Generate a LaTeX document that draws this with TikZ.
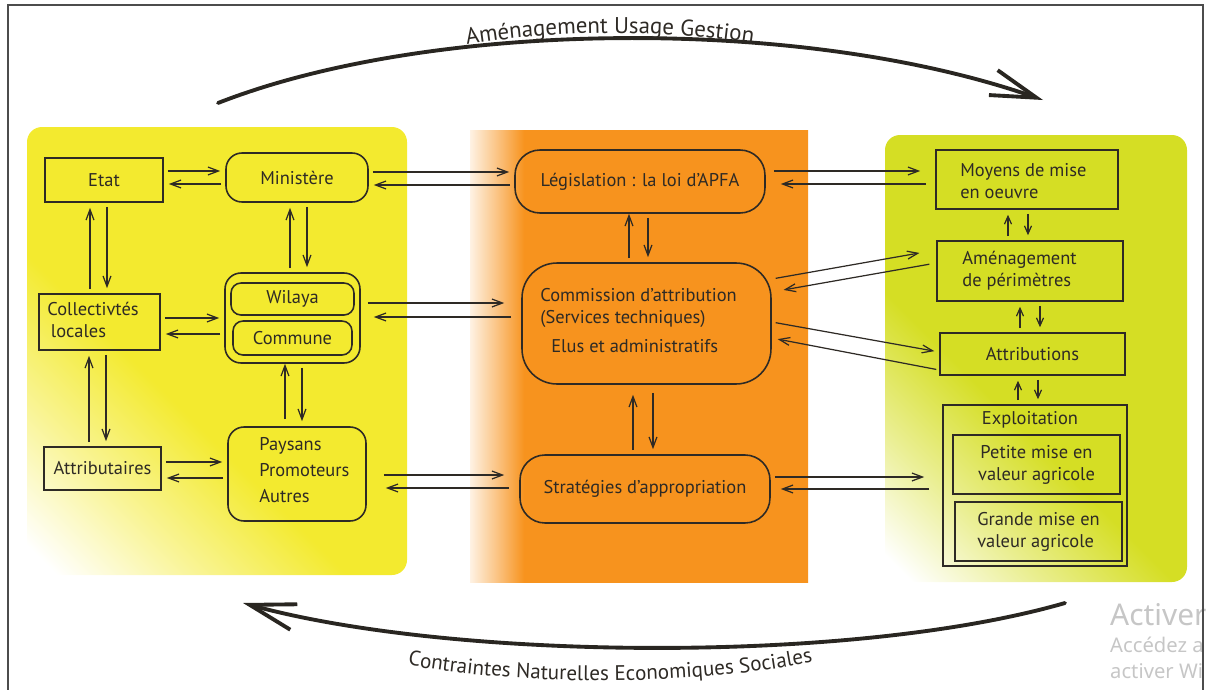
\documentclass[tikz,border=0pt]{standalone}
\usepackage{fontspec}
\setmainfont{PT Sans}
\newfontfamily\winfont{Noto Sans}
\usetikzlibrary{arrows.meta,decorations.text}

\definecolor{ink}{HTML}{2E2A25}
\definecolor{jaune}{HTML}{F3EA2F}
\definecolor{orangeA}{HTML}{F7931E}
\definecolor{vert}{HTML}{D5DE24}

\pgfdeclarehorizontalshading{fondjaune}{100bp}{color(0bp)=(white); color(17bp)=(white); color(29bp)=(jaune!50!white); color(42bp)=(jaune); color(100bp)=(jaune)}
\pgfdeclarehorizontalshading{fondvert}{100bp}{color(0bp)=(white); color(17bp)=(white); color(29bp)=(vert!50!white); color(42bp)=(vert); color(100bp)=(vert)}
\pgfdeclarehorizontalshading{fondorange}{100bp}{color(0bp)=(orangeA!12!white); color(25bp)=(orangeA!12!white); color(29bp)=(orangeA!55!white); color(33bp)=(orangeA); color(100bp)=(orangeA)}

\tikzset{
  box/.style={draw=ink, line width=0.9pt, inner sep=0pt},
  rbox/.style={box, rounded corners=0.32cm},
  lien/.style={draw=ink, line width=0.7pt, ->, shorten <=0.08cm, shorten >=0.1cm},
  petit/.style={lien, >={Straight Barb[length=4.5pt,width=4pt]}},
  boucle/.style={draw=ink!90!black, line width=2.2pt, line cap=round,
    -{Straight Barb[length=26pt,width=15pt]}},
}

\begin{document}
\begin{tikzpicture}[x=0.02cm, y=-0.02cm, text=ink,
    font=\fontsize{10.5}{12.5}\selectfont,
    >={Straight Barb[length=6pt,width=4.5pt]}]
\useasboundingbox (0,0) rectangle (1215,690);

% fonds
\shade[shading=fondjaune, shading angle=45, rounded corners=0.3cm] (27,127) rectangle (407,575);
\shade[shading=fondorange] (470,130) rectangle (808,582);
\shade[shading=fondvert, shading angle=45, rounded corners=0.3cm] (885,135) rectangle (1187,582);

% watermark
\node[anchor=west, text=gray!45, font=\winfont\fontsize{17}{19}\selectfont] (wmA) at (1104,615) {Activer};
\node[anchor=west, text=gray!45, font=\winfont\fontsize{11.5}{13}\selectfont] (wmB) at (1104,645) {Accédez a};
\node[anchor=west, text=gray!45, font=\winfont\fontsize{11.5}{13}\selectfont] (wmC) at (1104,671) {activer Wi};
\draw[gray!60!black, line width=0.8pt] (8,700) -- (8,5) -- (1203,5) -- (1203,700);

% acteurs
\node[box, minimum width=2.36cm, minimum height=0.88cm] (etat) at (104,180) {Etat};
\node[rbox, minimum width=2.84cm, minimum height=0.98cm] (ministere) at (297,177.5) {Ministère};
\node[box, minimum width=2.42cm, minimum height=1.12cm] (collect) at (99.5,322) {};
\node[anchor=west, align=left, inner sep=0pt] (collectTxt) at (47,320) {Collectivtés\\\hspace{2pt}locales};
\node[rbox, minimum width=2.7cm, minimum height=1.8cm] (wilcom) at (292.5,318) {};
\node[rbox, rounded corners=0.2cm, minimum width=2.46cm, minimum height=0.64cm] (wilaya) at (292.5,299) {Wilaya};
\node[rbox, rounded corners=0.2cm, minimum width=2.38cm, minimum height=0.68cm] (commune) at (292.5,338) {Commune};
\node[box, minimum width=2.34cm, minimum height=0.86cm] (attrib) at (102.5,468.5) {Attributaires};
\node[rbox, minimum width=2.76cm, minimum height=1.88cm] (paysans) at (297,474) {};
\node[anchor=west, align=left, inner sep=0pt] (paysansTxt) at (259,470) {Paysans\\[2.5pt]Promoteurs\\[2.5pt]Autres};

% centre
\node[rbox, rounded corners=0.5cm, minimum width=5cm, minimum height=1.26cm] (legis) at (640,181.5) {Législation : la loi d'APFA};
\node[rbox, rounded corners=0.7cm, minimum width=4.98cm, minimum height=2.42cm] (commission) at (646.5,323.5) {};
\node[anchor=west, align=left, inner sep=0pt] (commissionTxt) at (540,321) {Commission d'attribution\\(Services techniques)\\[4pt]\hspace{0.22cm}Elus et administratifs};
\node[rbox, rounded corners=0.5cm, minimum width=5cm, minimum height=1.36cm] (strat) at (645,489) {Stratégies d'appropriation};

% droite
\node[box, minimum width=3.64cm, minimum height=1.18cm] (moyens) at (1027,179.5) {};
\node[anchor=west, align=left, inner sep=0pt] (moyensTxt) at (960,181) {Moyens de mise\\en oeuvre};
\node[box, minimum width=3.72cm, minimum height=1.2cm] (amenag) at (1030,271) {};
\node[anchor=west, align=left, inner sep=0pt] (amenagTxt) at (962,271) {Aménagement\\de périmètres};
\node[box, minimum width=3.7cm, minimum height=0.84cm] (attribution) at (1032.5,354) {Attributions};
\node[box, minimum width=3.68cm, minimum height=3.22cm] (exploit) at (1035,485.5) {};
\node (exploitTxt) at (1030,420) {Exploitation};
\node[box, align=center, minimum width=3.34cm, minimum height=1.18cm] (petite) at (1036.5,464.5) {Petite mise en\\valeur agricole};
\node[box, align=left, minimum width=3.34cm, minimum height=1.18cm] (grande) at (1038.5,531.5) {Grande mise en\\valeur agricole};

% fleches gauche
\draw[lien] (etat.east |- 0,171) -- (ministere.west |- 0,171);
\draw[lien] (ministere.west |- 0,184) -- (etat.east |- 0,184);
\draw[lien] (collect.east |- 0,318) -- (wilcom.west |- 0,318);
\draw[lien] (wilcom.west |- 0,334) -- (collect.east |- 0,334);
\draw[lien] (attrib.east |- 0,462) -- (paysans.west |- 0,462);
\draw[lien] (paysans.west |- 0,478) -- (attrib.east |- 0,478);
\draw[lien] (collect.north -| 90,0) -- (etat.south -| 90,0);
\draw[lien] (etat.south -| 107,0) -- (collect.north -| 107,0);
\draw[lien] (attrib.north -| 89,0) -- (collect.south -| 89,0);
\draw[lien] (collect.south -| 106,0) -- (attrib.north -| 106,0);
\draw[lien] (wilcom.north -| 290,0) -- (ministere.south -| 290,0);
\draw[lien] (ministere.south -| 307,0) -- (wilcom.north -| 307,0);
\draw[lien, shorten <=0.14cm, shorten >=0] (paysans.north -| 285,0) -- (wilcom.south -| 285,0);
\draw[lien] (wilcom.south -| 302,0) -- (paysans.north -| 302,0);

% fleches gauche-centre
\draw[lien] (ministere.east |- 0,172) -- (legis.west |- 0,172);
\draw[lien] (legis.west |- 0,185) -- (ministere.east |- 0,185);
\draw[lien, shorten <=0.14cm, shorten >=0.34cm] (wilcom.east |- 0,303) -- (commission.west |- 0,303);
\draw[lien, shorten <=0.2cm, shorten >=0.26cm] (commission.west |- 0,317) -- (wilcom.east |- 0,317);
\draw[lien, shorten <=0.34cm, shorten >=0.3cm] (paysans.east |- 0,475) -- (strat.west |- 0,475);
\draw[lien, shorten <=0.2cm, shorten >=0.38cm] (strat.west |- 0,488) -- (paysans.east |- 0,488);

% fleches centre
\draw[lien, shorten >=0] (commission.north -| 629,0) -- (legis.south -| 629,0);
\draw[lien] (legis.south -| 648,0) -- (commission.north -| 648,0);
\draw[lien, shorten >=0.2cm] (strat.north -| 633,0) -- (commission.south -| 633,0);
\draw[lien, shorten <=0.16cm] (commission.south -| 653,0) -- (strat.north -| 653,0);

% fleches centre-droite
\draw[lien, shorten <=0.16cm, shorten >=0.3cm] (legis.east |- 0,171) -- (moyens.west |- 0,171);
\draw[lien, shorten <=0.18cm, shorten >=0.3cm] (moyens.west |- 0,184) -- (legis.east |- 0,184);
\draw[lien, shorten >=0.34cm] (commission.east |- 0,279) -- (amenag.west |- 0,250);
\draw[lien, shorten <=0.14cm, shorten >=0.24cm] (amenag.west |- 0,263) -- (commission.east |- 0,292);
\draw[lien] (commission.east |- 0,322) -- (attribution.west |- 0,352);
\draw[lien, shorten <=0.06cm, shorten >=0.12cm] (attribution.west |- 0,370) -- (commission.east |- 0,338);
\draw[lien, shorten >=0.36cm] (strat.east |- 0,477) -- (exploit.west |- 0,477);
\draw[lien, shorten <=0.26cm, shorten >=0.2cm] (exploit.west |- 0,489) -- (strat.east |- 0,489);

% fleches droite
\draw[petit] (amenag.north -| 1008,0) -- (moyens.south -| 1008,0);
\draw[petit] (moyens.south -| 1028,0) -- (amenag.north -| 1028,0);
\draw[petit] (attribution.north -| 1020,0) -- (amenag.south -| 1020,0);
\draw[petit] (amenag.south -| 1040,0) -- (attribution.north -| 1040,0);
\draw[petit] (exploit.north -| 1018,0) -- (attribution.south -| 1018,0);
\draw[petit] (attribution.south -| 1038,0) -- (exploit.north -| 1038,0);

% grands cycles
\coordinate (hautA) at (218,103);
\coordinate (hautB) at (1043,100);
\draw[boucle] (hautA) .. controls (430,20) and (800,15) .. (hautB);
\path[decorate, decoration={text along path, text align=center, text color=ink,
    text={|\fontsize{13}{15}\selectfont|Aménagement Usage Gestion}}]
  (440,50) .. controls (540,28) and (680,28) .. (780,48);
\coordinate (basA) at (1065,603);
\coordinate (basB) at (243,603);
\draw[boucle] (basA) .. controls (850,665) and (450,660) .. (basB);
\path[decorate, decoration={text along path, text align=center, text color=ink,
    text={|\fontsize{12}{14}\selectfont|Contraintes Naturelles Economiques Sociales}}]
  (385,660) .. controls (500,688) and (720,688) .. (835,656);
\end{tikzpicture}
\end{document}
